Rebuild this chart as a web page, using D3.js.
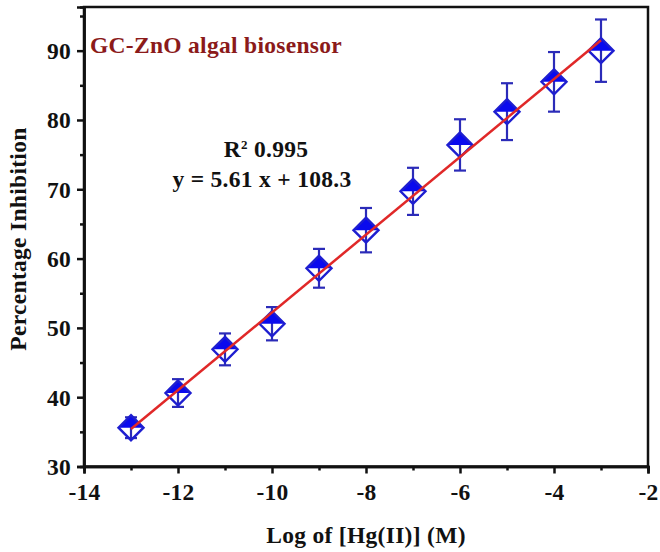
<!DOCTYPE html>
<html>
<head>
<meta charset="utf-8">
<script src="https://cdn.jsdelivr.net/npm/d3@7"></script>
<style>
  body { margin: 0; background: #fff; }
  svg { display: block; }
  text { font-family: "Liberation Serif", "Times New Roman", serif; font-weight: bold; letter-spacing: 0.3px; }
</style>
</head>
<body>
<div id="chart"></div>
<script>
// data
const logConc = [-13, -12, -11, -10, -9, -8, -7, -6, -5, -4, -3];
const inhibition = [35.6, 40.6, 46.9, 50.6, 58.6, 64.1, 69.7, 76.4, 81.2, 85.5, 90.0];
const errors = [1.5, 2.0, 2.3, 2.4, 2.8, 3.2, 3.4, 3.7, 4.1, 4.3, 4.5];
// fitted line end points (y = 5.61 x + 108.3)
const fitX = [-13, -3];
const fitY = [35.4, 91.5];
const xTicks = [-14, -12, -10, -8, -6, -4, -2];
const xMinor = [-13, -11, -9, -7, -5, -3];
const yTicks = [30, 40, 50, 60, 70, 80, 90];
const yMinor = [35, 45, 55, 65, 75, 85, 95];

const W = 660, H = 552;
const margin = {top: 7, right: 12, bottom: 85.5, left: 84};
const w = W - margin.left - margin.right;
const h = H - margin.top - margin.bottom;
const fs = "23.5px";

let svg = d3.select("#chart").append("svg")
    .attr("width", W)
    .attr("height", H);

let g = svg.append("g")
    .attr("transform", "translate(" + margin.left + "," + margin.top + ")");

let x = d3.scaleLinear().domain([-14, -2]).range([0, w]);
let y = d3.scaleLinear().domain([30, 96.3]).range([h, 0]);

// frame
g.append("rect")
    .attr("width", w).attr("height", h)
    .attr("fill", "none")
    .attr("stroke", "#111")
    .attr("stroke-width", 2.5);

// axes
let xAxis = g.append("g")
    .attr("transform", "translate(0," + h + ")")
    .call(d3.axisBottom(x).tickValues(xTicks).tickSize(7).tickPadding(9.5).tickFormat(d => String(d)));
let xAxisMinor = g.append("g")
    .attr("transform", "translate(0," + h + ")")
    .call(d3.axisBottom(x).tickValues(xMinor).tickSize(4).tickFormat(""));
let yAxis = g.append("g")
    .call(d3.axisLeft(y).tickValues(yTicks).tickSize(7).tickPadding(6).tickFormat(d => String(d)));
let yAxisMinor = g.append("g")
    .call(d3.axisLeft(y).tickValues(yMinor).tickSize(4).tickFormat(""));

[xAxis, xAxisMinor, yAxis, yAxisMinor].forEach(a => {
    a.select(".domain").attr("stroke", "#111").attr("stroke-width", 2.5);
    a.selectAll(".tick line").attr("stroke", "#111").attr("stroke-width", 2.5);
    a.selectAll(".tick text")
        .attr("fill", "#111")
        .style("font-size", fs)
        .style("font-family", "'Liberation Serif', serif")
        .style("font-weight", "bold");
});
yAxis.selectAll(".tick text").attr("dy", "0.34em");

// error bars
let eb = g.append("g").selectAll("g").data(logConc).enter().append("g")
    .attr("stroke", "#2b2bb8")
    .attr("stroke-width", 2.2);
eb.append("line")
    .attr("x1", d => x(d)).attr("x2", d => x(d))
    .attr("y1", (d, i) => y(inhibition[i] + errors[i]))
    .attr("y2", (d, i) => y(inhibition[i] - errors[i]));
eb.append("line")
    .attr("x1", d => x(d) - 6).attr("x2", d => x(d) + 6)
    .attr("y1", (d, i) => y(inhibition[i] + errors[i]))
    .attr("y2", (d, i) => y(inhibition[i] + errors[i]));
eb.append("line")
    .attr("x1", d => x(d) - 6).attr("x2", d => x(d) + 6)
    .attr("y1", (d, i) => y(inhibition[i] - errors[i]))
    .attr("y2", (d, i) => y(inhibition[i] - errors[i]));

// half-filled diamonds
const r = 12.5;
let mk = g.append("g").selectAll("g").data(logConc).enter().append("g")
    .attr("transform", (d, i) => "translate(" + x(d) + "," + y(inhibition[i]) + ")");
mk.append("path")
    .attr("d", `M${-r},0L0,${-r}L${r},0Z`)
    .attr("fill", "#0a0aee");
mk.append("path")
    .attr("d", `M0,${-r}L${r},0L0,${r}L${-r},0Z`)
    .attr("fill", "none")
    .attr("stroke", "#1e1ed0")
    .attr("stroke-width", 2.4);

// fit line
g.append("line")
    .attr("x1", x(fitX[0])).attr("y1", y(fitY[0]))
    .attr("x2", x(fitX[1])).attr("y2", y(fitY[1]))
    .attr("stroke", "#e02828")
    .attr("stroke-width", 2.5);

// labels
svg.append("text")
    .attr("x", 90).attr("y", 53)
    .attr("fill", "#8b1a1a")
    .style("font-size", fs)
    .text("GC-ZnO algal biosensor");

let r2 = svg.append("text")
    .attr("x", 266).attr("y", 157)
    .attr("text-anchor", "middle")
    .attr("fill", "#111")
    .style("font-size", fs);
r2.append("tspan").text("R");
r2.append("tspan").attr("dy", -8).style("font-size", "13px").text("2");
r2.append("tspan").attr("dy", 8).text(" 0.995");

svg.append("text")
    .attr("x", 262).attr("y", 187)
    .attr("text-anchor", "middle")
    .attr("fill", "#111")
    .style("font-size", fs)
    .text("y = 5.61 x + 108.3");

svg.append("text")
    .attr("x", margin.left + w / 2).attr("y", 543)
    .attr("text-anchor", "middle")
    .attr("fill", "#111")
    .style("font-size", fs)
    .text("Log of [Hg(II)] (M)");

svg.append("text")
    .attr("transform", "translate(26,239) rotate(-90)")
    .attr("text-anchor", "middle")
    .attr("fill", "#111")
    .style("font-size", fs)
    .text("Percentage Inhibition");
</script>
</body>
</html>
